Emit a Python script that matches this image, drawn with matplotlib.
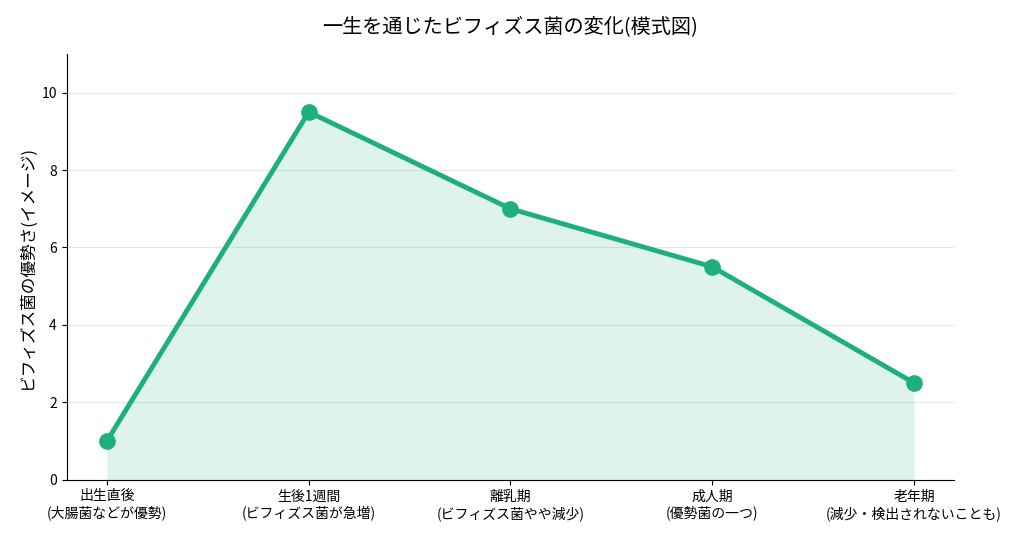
import matplotlib.pyplot as plt

plt.rcParams['font.family'] = ['Noto Sans CJK JP', 'DejaVu Sans']

# Data
stages = ["出生直後\n(大腸菌などが優勢)", "生後1週間\n(ビフィズス菌が急増)", "離乳期\n(ビフィズス菌やや減少)",
          "成人期\n(優勢菌の一つ)", "老年期\n(減少・検出されないことも)"]
levels = [1, 9.5, 7, 5.5, 2.5]

color = '#1db07a'
x = list(range(len(stages)))

fig, ax = plt.subplots(figsize=(10.24, 5.39), dpi=100)
ax.plot(x, levels, color=color, linewidth=3.5, marker='o', markersize=11, zorder=3)
ax.fill_between(x, levels, color=color, alpha=0.15, linewidth=0)

ax.set_xticks(x)
ax.set_xticklabels(stages, fontsize=10)
ax.set_xlim(-0.2, 4.2)
ax.set_ylim(0, 11)
ax.set_yticks([0, 2, 4, 6, 8, 10])
ax.tick_params(axis='y', labelsize=10)
ax.set_ylabel('ビフィズス菌の優勢さ(イメージ)', fontsize=12)
ax.set_title('一生を通じたビフィズス菌の変化(模式図)', fontsize=14.5, pad=16)

ax.grid(axis='y', color='#e6e6e6', linewidth=0.8)
ax.set_axisbelow(True)
ax.spines['top'].set_visible(False)
ax.spines['right'].set_visible(False)

plt.subplots_adjust(left=0.065, right=0.932, top=0.9, bottom=0.11)
plt.savefig("out.png")
